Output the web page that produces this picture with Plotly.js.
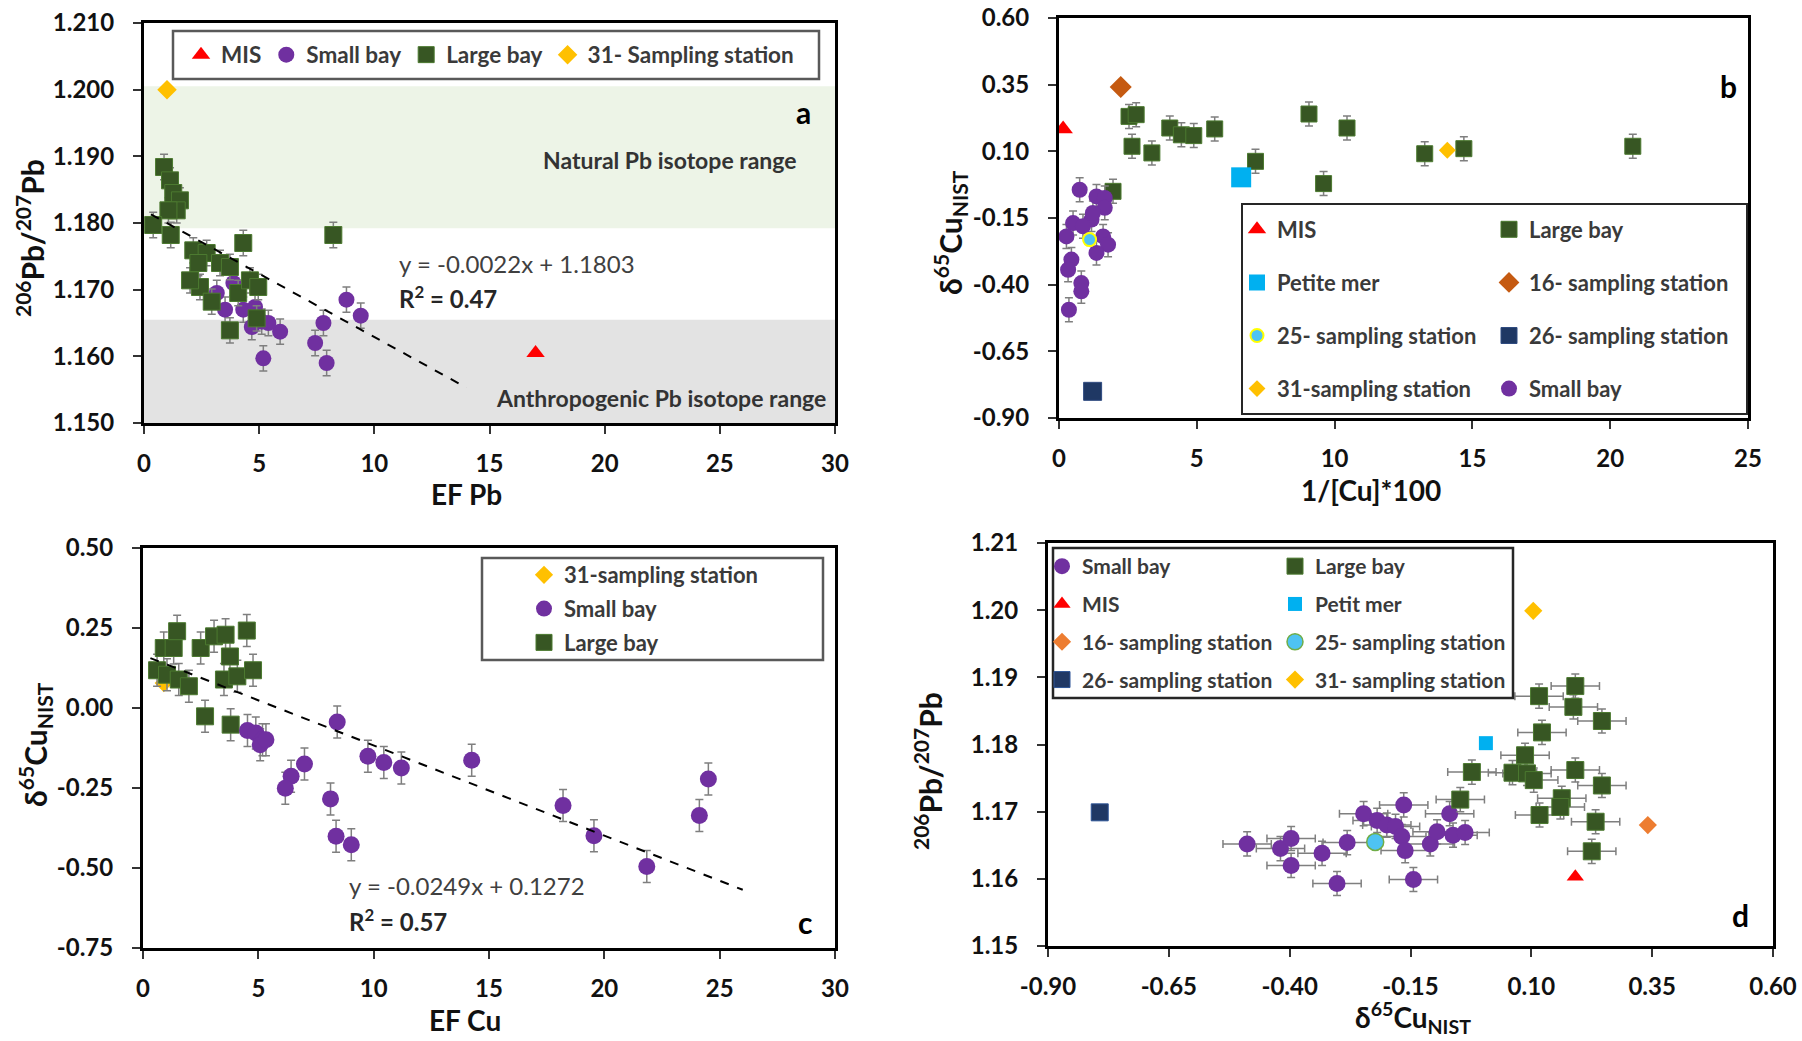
<!DOCTYPE html>
<html>
<head>
<meta charset="utf-8">
<script src="https://cdn.plot.ly/plotly-3.0.1.min.js"></script>
<style>html,body{margin:0;padding:0;background:#fff;}#chart{width:1802px;height:1041px;}</style>
</head>
<body>
<div id="chart"></div>
<script>
// ---------------- DATA ----------------
// Panel a : EF Pb vs 206Pb/207Pb
const aLargeX = [0.87,1.13,1.27,1.56,1.42,1.06,0.40,1.16,2.14,2.72,4.31,2.36,3.30,3.73,2.43,2.94,4.09,4.60,4.96,4.89,3.73,8.22,2.00];
const aLargeY = [1.1884,1.1864,1.1845,1.1834,1.1819,1.1819,1.1797,1.1782,1.1759,1.1755,1.1770,1.1740,1.1740,1.1734,1.1704,1.1682,1.1695,1.1714,1.1704,1.1657,1.1639,1.1782,1.1714];
const aSmallX = [3.16,3.52,3.88,4.31,4.82,5.11,4.68,5.91,5.18,7.79,7.43,7.93,5.40,8.79,9.41];
const aSmallY = [1.1695,1.1670,1.1710,1.1670,1.1674,1.1652,1.1644,1.1637,1.1597,1.1650,1.1620,1.1590,1.1650,1.1685,1.1661];
const aMisX = [17.0], aMisY = [1.1605];
const a31X = [1.0], a31Y = [1.2000];
const aTrendX = [0.3, 14.0], aTrendY = [1.1813, 1.1553];
const aNaturalRange = [1.1792, 1.2005];
const aAnthroRange = [1.1500, 1.1655];

// Panel b : 1/[Cu]*100 vs d65Cu
const bLargeX = [2.54,2.80,2.65,3.37,4.02,4.44,4.89,5.65,7.13,9.07,9.60,10.45,1.96,13.27,14.69,20.82];
const bLargeY = [0.231,0.2375,0.119,0.094,0.1875,0.162,0.159,0.184,0.0625,0.24,-0.021,0.1875,-0.05,0.091,0.11,0.119];
const bSmallX = [0.75,1.36,1.66,1.66,1.18,0.51,0.27,0.87,1.60,1.78,1.36,0.45,0.33,0.81,0.81,0.36,1.23];
const bSmallY = [-0.044,-0.069,-0.075,-0.112,-0.156,-0.169,-0.219,-0.181,-0.219,-0.25,-0.281,-0.306,-0.344,-0.394,-0.425,-0.494,-0.131];
const bMisX = [0.15], bMisY = [0.184];
const b16X = [2.24], b16Y = [0.341];
const b26X = [1.22], b26Y = [-0.80];
const bPetiteX = [6.61], bPetiteY = [0.0025];
const b25X = [1.11], b25Y = [-0.231];
const b31X = [14.09], b31Y = [0.104];

// Panel c : EF Cu vs d65Cu
const cLargeX = [0.61,0.90,1.33,1.48,1.04,1.55,1.99,2.50,3.08,3.58,3.77,4.50,3.51,4.09,4.77,2.69,3.80];
const cLargeY = [0.118,0.1875,0.1875,0.24,0.104,0.089,0.068,0.1875,0.224,0.229,0.161,0.242,0.089,0.099,0.118,-0.026,-0.052];
const cSmallX = [4.53,4.89,5.18,5.08,5.33,8.42,7.00,6.42,6.17,8.13,8.37,9.03,9.75,10.44,11.20,14.25,18.21,19.55,21.84,24.12,24.51];
const cSmallY = [-0.070,-0.078,-0.099,-0.115,-0.099,-0.044,-0.175,-0.2135,-0.251,-0.284,-0.401,-0.427,-0.151,-0.170,-0.1875,-0.1635,-0.305,-0.399,-0.495,-0.336,-0.222];
const c31X = [0.9], c31Y = [0.078];
const cTrendX = [0.32, 26.0], cTrendY = [0.156, -0.568];

// Panel d : d65Cu vs 206Pb/207Pb
const dSmallX = [-0.488,-0.419,-0.397,-0.397,-0.333,-0.302,-0.281,-0.247,-0.219,-0.199,-0.181,-0.168,-0.164,-0.161,-0.144,-0.109,-0.095,-0.069,-0.062,-0.037];
const dSmallY = [1.1652,1.1645,1.1660,1.1620,1.1638,1.1593,1.1654,1.1697,1.1687,1.1680,1.1678,1.1663,1.1710,1.1642,1.1599,1.1652,1.1670,1.1697,1.1665,1.1669];
const dLargeX = [-0.047,-0.023,0.061,0.087,0.091,0.105,0.116,0.191,0.187,0.246,0.122,0.191,0.246,0.163,0.160,0.117,0.233,0.225];
const dLargeY = [1.1718,1.1759,1.1758,1.1784,1.1757,1.1747,1.1872,1.1887,1.1856,1.1835,1.1818,1.1762,1.1739,1.1720,1.1707,1.1695,1.1685,1.1641];
const dMisX = [0.191], dMisY = [1.1603];
const dPetitX = [0.006], dPetitY = [1.1802];
const d16X = [0.341], d16Y = [1.1680];
const d26X = [-0.793], d26Y = [1.1699];
const d25X = [-0.223], d25Y = [1.1655];
const d31X = [0.104], d31Y = [1.1999];

// Error magnitudes
const aErr = 0.0019, bErr = 0.045, cErr = 0.05, dErrX = 0.05, dErrY = 0.0018;

// Tick labels
const tick30 = [0,5,10,15,20,25,30];
const tick30Text = ['0','5','10','15','20','25','30'];
const tick25 = [0,5,10,15,20,25];
const tick25Text = ['0','5','10','15','20','25'];
const aYTicks = [1.150,1.160,1.170,1.180,1.190,1.200,1.210];
const aYText = ['1.150','1.160','1.170','1.180','1.190','1.200','1.210'];
const cuTicks = [-0.90,-0.65,-0.40,-0.15,0.10,0.35,0.60];
const cuText = ['-0.90','-0.65','-0.40','-0.15','0.10','0.35','0.60'];
const cYTicks = [-0.75,-0.50,-0.25,0.00,0.25,0.50];
const cYText = ['-0.75','-0.50','-0.25','0.00','0.25','0.50'];
const dYTicks = [1.15,1.16,1.17,1.18,1.19,1.20,1.21];
const dYText = ['1.15','1.16','1.17','1.18','1.19','1.20','1.21'];

// Axis titles
const aXTitle = 'EF Pb', aYTitle = '<sup>206</sup>Pb/<sup>207</sup>Pb';
const bXTitle = '1/[Cu]*100', bYTitle = 'δ<sup>65</sup>Cu<sub>NIST</sub>';
const cXTitle = 'EF Cu', cYTitle = 'δ<sup>65</sup>Cu<sub>NIST</sub>';
const dXTitle = 'δ<sup>65</sup>Cu<sub>NIST</sub>', dYTitle = '<sup>206</sup>Pb/<sup>207</sup>Pb';

// ---------------- STYLE ----------------
const COL = {
  large:'#375623', largeLine:'#4C7A30', small:'#7030A0', mis:'#FF0000', st31:'#FFC000',
  st16b:'#C55A11', st16d:'#ED7D31', petite:'#00B0F0', st26:'#1F3864', st25:'#4EC3F2',
  err:'#7F7F7F'
};
const W = 1802, H = 1041;
const px = v => v / W, py = v => 1 - v / H;
const FONT = 'Lato, "Open Sans", sans-serif';
const legFont = (s) => ({family: FONT, size: s, color: '#3A3A3A', weight: 'bold'});

function errY(v) { return {type:'constant', value:v, color:COL.err, thickness:1.5, width:4}; }
function errX(v) { return {type:'constant', value:v, color:COL.err, thickness:1.5, width:4}; }

function sc(name, xs, ys, xa, ya, marker, extra) {
  return Object.assign({
    type:'scatter', mode:'markers', name:name, x:xs, y:ys,
    xaxis:xa, yaxis:ya, marker:marker, hoverinfo:'x+y'
  }, extra || {});
}

const sqLarge = (s) => ({symbol:'square', size:s, color:COL.large, line:{color:COL.largeLine, width:1}});
const ciSmall = (s) => ({symbol:'circle', size:s, color:COL.small, line:{color:COL.small, width:0}});

const traces = [
  // ---- Panel a ----
  sc('Small bay', aSmallX, aSmallY, 'x', 'y', ciSmall(16), {legend:'legend', legendrank:2, error_y:errY(aErr)}),
  sc('Large bay', aLargeX, aLargeY, 'x', 'y', sqLarge(17), {legend:'legend', legendrank:3, error_y:errY(aErr)}),
  sc('MIS', aMisX, aMisY, 'x', 'y', {symbol:'triangle-up', size:16, color:COL.mis}, {legend:'legend', legendrank:1}),
  sc('31- Sampling station', a31X, a31Y, 'x', 'y', {symbol:'diamond', size:15, color:COL.st31}, {legend:'legend', legendrank:4}),
  {type:'scatter', mode:'lines', x:aTrendX, y:aTrendY, xaxis:'x', yaxis:'y', showlegend:false,
   line:{color:'#000', width:2, dash:'dash'}, hoverinfo:'skip'},

  // ---- Panel b ----
  sc('Large bay', bLargeX, bLargeY, 'x2', 'y2', sqLarge(16), {legend:'legend3', legendgroup:'b5', legendrank:1, error_y:errY(bErr)}),
  sc('Small bay', bSmallX, bSmallY, 'x2', 'y2', ciSmall(16), {legend:'legend3', legendgroup:'b8', legendrank:4, error_y:errY(bErr)}),
  sc('MIS', bMisX, bMisY, 'x2', 'y2', {symbol:'triangle-up', size:17, color:COL.mis}, {legend:'legend2', legendgroup:'b1', legendrank:1}),
  sc('16- sampling station', b16X, b16Y, 'x2', 'y2', {symbol:'diamond', size:17, color:COL.st16b}, {legend:'legend3', legendgroup:'b6', legendrank:2}),
  sc('26- sampling station', b26X, b26Y, 'x2', 'y2', {symbol:'square', size:18, color:COL.st26, line:{color:'#2F4B80', width:1}}, {legend:'legend3', legendgroup:'b7', legendrank:3}),
  sc('Petite mer', bPetiteX, bPetiteY, 'x2', 'y2', {symbol:'square', size:20, color:COL.petite}, {legend:'legend2', legendgroup:'b2', legendrank:2}),
  sc('31-sampling station', b31X, b31Y, 'x2', 'y2', {symbol:'diamond', size:13, color:COL.st31}, {legend:'legend2', legendgroup:'b4', legendrank:4}),
  sc('25- sampling station', b25X, b25Y, 'x2', 'y2', {symbol:'circle', size:13, color:COL.st25, line:{color:'#FFFF00', width:2}}, {legend:'legend2', legendgroup:'b3', legendrank:3}),

  // ---- Panel c ----
  sc('31-sampling station', c31X, c31Y, 'x3', 'y3', {symbol:'diamond', size:14, color:COL.st31}, {legend:'legend4', legendgroup:'c1', legendrank:1}),
  sc('Large bay', cLargeX, cLargeY, 'x3', 'y3', sqLarge(17), {legend:'legend4', legendgroup:'c3', legendrank:3, error_y:errY(cErr)}),
  sc('Small bay', cSmallX, cSmallY, 'x3', 'y3', ciSmall(17), {legend:'legend4', legendgroup:'c2', legendrank:2, error_y:errY(cErr)}),
  {type:'scatter', mode:'lines', x:cTrendX, y:cTrendY, xaxis:'x3', yaxis:'y3', showlegend:false,
   line:{color:'#000', width:2, dash:'dash'}, hoverinfo:'skip'},

  // ---- Panel d ----
  sc('Small bay', dSmallX, dSmallY, 'x4', 'y4', ciSmall(17), {legend:'legend5', legendgroup:'d1', legendrank:1, error_x:errX(dErrX), error_y:errY(dErrY)}),
  sc('Large bay', dLargeX, dLargeY, 'x4', 'y4', sqLarge(17), {legend:'legend6', legendgroup:'d5', legendrank:1, error_x:errX(dErrX), error_y:errY(dErrY)}),
  sc('MIS', dMisX, dMisY, 'x4', 'y4', {symbol:'triangle-up', size:15, color:COL.mis}, {legend:'legend5', legendgroup:'d2', legendrank:2}),
  sc('Petit mer', dPetitX, dPetitY, 'x4', 'y4', {symbol:'square', size:14, color:COL.petite}, {legend:'legend6', legendgroup:'d6', legendrank:2}),
  sc('16- sampling station', d16X, d16Y, 'x4', 'y4', {symbol:'diamond', size:14, color:COL.st16d}, {legend:'legend5', legendgroup:'d3', legendrank:3}),
  sc('25- sampling station', d25X, d25Y, 'x4', 'y4', {symbol:'circle', size:17, color:COL.st25, line:{color:'#70AD47', width:1.5}}, {legend:'legend6', legendgroup:'d7', legendrank:3}),
  sc('26- sampling station', d26X, d26Y, 'x4', 'y4', {symbol:'square', size:17, color:'#203864', line:{color:'#2F5597', width:1}}, {legend:'legend5', legendgroup:'d4', legendrank:4}),
  sc('31- sampling station', d31X, d31Y, 'x4', 'y4', {symbol:'diamond', size:14, color:COL.st31}, {legend:'legend6', legendgroup:'d8', legendrank:4})
];

// ---------------- AXES ----------------
const tickFont = {family: FONT, size: 24, color: '#111', weight: 'bold'};
function axis(domain, range, tv, tt, extra) {
  return Object.assign({
    domain: domain, range: range, tickmode: 'array', tickvals: tv, ticktext: tt,
    showline: true, mirror: true, linecolor: '#000', linewidth: 3,
    ticks: 'outside', ticklen: 8, tickwidth: 2, tickcolor: '#333',
    showgrid: false, zeroline: false, tickfont: tickFont,
    fixedrange: true
  }, extra || {});
}
const xAx = (d, r, tv, tt, anchor) => axis(d, r, tv, tt, {anchor: anchor, ticklabelstandoff: 9});
const yAx = (d, r, tv, tt, anchor) => axis(d, r, tv, tt, {anchor: anchor, ticklabelstandoff: 14});

function legendBox(xSym, yRow, size, extra) {
  return Object.assign({
    x: px(xSym - 26), y: py(yRow), xanchor: 'left', yanchor: 'middle',
    bgcolor: 'rgba(0,0,0,0)', borderwidth: 0, font: legFont(size),
    itemsizing: 'trace'
  }, extra || {});
}

function note(text, x, y, size, opts) {
  return Object.assign({
    text: text, x: px(x), y: py(y), xref: 'paper', yref: 'paper', showarrow: false,
    xanchor: 'center', yanchor: 'middle',
    font: {family: FONT, size: size, color: '#111', weight: 'bold'}
  }, opts || {});
}
const axTitleFont = (s) => ({family: FONT, size: s, color: '#111', weight: 'bold'});

const layout = {
  width: W, height: H,
  margin: {l:0, r:0, t:0, b:0},
  paper_bgcolor: '#fff', plot_bgcolor: '#fff',
  font: {family: FONT},
  showlegend: true,
  xaxis:  xAx([px(144), px(835)], [0, 30], tick30, tick30Text, 'y'),
  yaxis:  yAx([py(423), py(23)], [1.150, 1.210], aYTicks, aYText, 'x'),
  xaxis2: xAx([px(1059), px(1748)], [0, 25], tick25, tick25Text, 'y2'),
  yaxis2: yAx([py(418), py(18)], [-0.90, 0.60], cuTicks, cuText, 'x2'),
  xaxis3: xAx([px(143), px(835)], [0, 30], tick30, tick30Text, 'y3'),
  yaxis3: yAx([py(948), py(548)], [-0.75, 0.50], cYTicks, cYText, 'x3'),
  xaxis4: xAx([px(1048), px(1773)], [-0.90, 0.60], cuTicks, cuText, 'y4'),
  yaxis4: yAx([py(946), py(543)], [1.15, 1.21], dYTicks, dYText, 'x4'),

  legend:  legendBox(207, 55, 22.5, {orientation:'h', traceorder:'normal'}),
  legend2: legendBox(1263, 309, 22, {traceorder:'grouped', tracegroupgap: 21.5}),
  legend3: legendBox(1515, 309, 22, {traceorder:'grouped', tracegroupgap: 21.5}),
  legend4: legendBox(550, 609, 22, {traceorder:'grouped', tracegroupgap: 2.2}),
  legend5: legendBox(1068, 623, 21, {traceorder:'grouped', tracegroupgap: 7.5}),
  legend6: legendBox(1301, 623, 21, {traceorder:'grouped', tracegroupgap: 7.5}),

  shapes: [
    {type:'rect', xref:'x domain', yref:'y', x0:0, x1:1, y0:aNaturalRange[0], y1:aNaturalRange[1],
     fillcolor:'#EDF4E7', line:{width:0}, layer:'below'},
    {type:'rect', xref:'x domain', yref:'y', x0:0, x1:1, y0:aAnthroRange[0], y1:aAnthroRange[1],
     fillcolor:'#E3E3E3', line:{width:0}, layer:'below'},
    // legend frames
    {type:'rect', xref:'paper', yref:'paper', x0:px(173), x1:px(819), y0:py(31), y1:py(79),
     fillcolor:'#fff', line:{color:'#595959', width:2.5}, layer:'above'},
    {type:'rect', xref:'paper', yref:'paper', x0:px(1242), x1:px(1747), y0:py(204), y1:py(414),
     fillcolor:'#fff', line:{color:'#262626', width:2}, layer:'above'},
    {type:'rect', xref:'paper', yref:'paper', x0:px(482), x1:px(823), y0:py(558), y1:py(660),
     fillcolor:'#fff', line:{color:'#595959', width:2.5}, layer:'above'},
    {type:'rect', xref:'paper', yref:'paper', x0:px(1053), x1:px(1513), y0:py(548), y1:py(698),
     fillcolor:'#fff', line:{color:'#262626', width:2.5}, layer:'above'}
  ],

  annotations: [
    // axis titles
    note(aXTitle, 466, 494, 28, {font: axTitleFont(28)}),
    note(aYTitle, 30, 238, 30, {font: axTitleFont(30), textangle: -90}),
    note(bXTitle, 1371, 490, 28, {font: axTitleFont(28)}),
    note(bYTitle, 950, 233, 30, {font: axTitleFont(30), textangle: -90}),
    note(cXTitle, 465, 1020, 28, {font: axTitleFont(28)}),
    note(cYTitle, 35, 745, 30, {font: axTitleFont(30), textangle: -90}),
    note(dXTitle, 1413, 1017, 28, {font: axTitleFont(28)}),
    note(dYTitle, 928, 771, 30, {font: axTitleFont(30), textangle: -90}),
    // panel letters and in-plot texts
    note('a', 803, 112, 30, {font:{family:FONT, size:30, color:'#000', weight:'bold'}}),
    note('Natural Pb isotope range', 670, 160, 23, {font:{family:FONT, size:23, color:'#333', weight:'bold'}}),
    note('y = -0.0022x + 1.1803', 397, 263, 24, {xanchor:'left', font:{family:FONT, size:24, color:'#404040'}}),
    note('R<sup>2</sup> = 0.47', 397, 297, 24, {xanchor:'left', font:{family:FONT, size:24, color:'#262626', weight:'bold'}}),
    note('Anthropogenic Pb isotope range', 661, 398, 23, {font:{family:FONT, size:23, color:'#333', weight:'bold'}}),
    note('b', 1728, 86, 30, {font:{family:FONT, size:30, color:'#000', weight:'bold'}}),
    note('y = -0.0249x + 0.1272', 347, 885, 24, {xanchor:'left', font:{family:FONT, size:24, color:'#404040'}}),
    note('R<sup>2</sup> = 0.57', 347, 920, 24, {xanchor:'left', font:{family:FONT, size:24, color:'#262626', weight:'bold'}}),
    note('c', 805, 922, 30, {font:{family:FONT, size:30, color:'#000', weight:'bold'}}),
    note('d', 1740, 915, 30, {font:{family:FONT, size:30, color:'#000', weight:'bold'}})
  ]
};

Plotly.newPlot('chart', traces, layout, {displayModeBar:false, staticPlot:true});
</script>
</body>
</html>
